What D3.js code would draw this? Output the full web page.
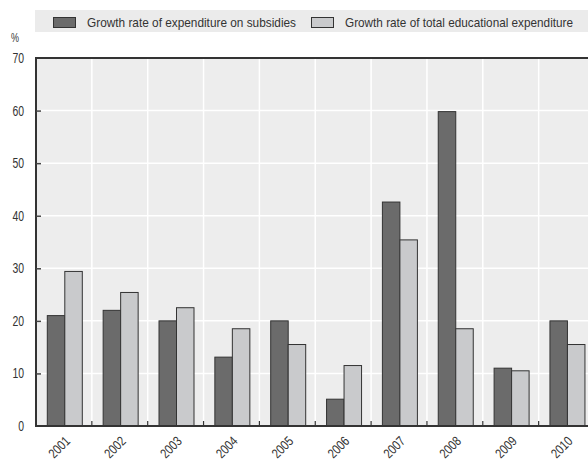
<!DOCTYPE html>
<html>
<head>
<meta charset="utf-8">
<script src="https://cdn.jsdelivr.net/npm/d3@7"></script>
<style>
  body { margin: 0; background: #fff; }
  svg text { font-family: "Liberation Sans Narrow", "Arial Narrow", "Liberation Sans", sans-serif; fill: #333; }
</style>
</head>
<body>
<svg id="chart" width="588" height="462"></svg>
<script>
// data
var years = ["2001", "2002", "2003", "2004", "2005", "2006", "2007", "2008", "2009", "2010"];
var subsidies = [21, 22, 20, 13.1, 20, 5.1, 42.6, 59.8, 11, 20];
var totalEdu = [29.4, 25.4, 22.5, 18.5, 15.5, 11.5, 35.4, 18.5, 10.5, 15.5];
var seriesNames = ["Growth rate of expenditure on subsidies", "Growth rate of total educational expenditure"];
var seriesColors = ["#6b6b6b", "#c9cacc"];
var yTicks = [0, 10, 20, 30, 40, 50, 60, 70];

var svg = d3.select("#chart");
var plotLeft = 36, plotTop = 58, plotBottom = 426;

var x0 = d3.scaleBand().domain(years).range([plotLeft, plotLeft + 55.85 * years.length]).padding(0);
var x1 = d3.scaleBand().domain([0, 1]).range([11.3, 46.3]).padding(0);
var y = d3.scaleLinear().domain([0, 70]).range([plotBottom, plotTop]);

// legend band
var leg = svg.append("g");
leg.append("rect").attr("x", 35).attr("y", 10).attr("width", 553).attr("height", 22).attr("fill", "#ebebeb");
var legX = [53, 311], legW = [209, 228];
seriesNames.forEach(function(n, i) {
	leg.append("rect").attr("x", legX[i] + 0.5).attr("y", 17.5).attr("width", 22).attr("height", 10)
		.attr("fill", seriesColors[i]).attr("stroke", "#333").attr("stroke-width", 1);
	leg.append("text").attr("x", legX[i] + 34).attr("y", 26.5).attr("font-size", 13.5)
		.attr("textLength", legW[i]).attr("lengthAdjust", "spacingAndGlyphs").text(n);
});

// plot background
var xr = x0.range()[1];
svg.append("rect").attr("x", plotLeft).attr("y", plotTop).attr("width", xr - plotLeft).attr("height", plotBottom - plotTop).attr("fill", "#ededed");

// grid
svg.append("g").selectAll("line").data(yTicks.slice(1, -1)).enter().append("line")
	.attr("x1", plotLeft).attr("x2", xr).attr("y1", function(d) { return y(d); }).attr("y2", function(d) { return y(d); })
	.attr("stroke", "#fff").attr("stroke-width", 1.5);
svg.append("g").selectAll("line").data(years.slice(1)).enter().append("line")
	.attr("x1", function(d) { return x0(d); }).attr("x2", function(d) { return x0(d); })
	.attr("y1", plotTop).attr("y2", plotBottom).attr("stroke", "#fff").attr("stroke-width", 1.5);

// bars
var groups = svg.append("g").selectAll("g").data(years).enter().append("g")
	.attr("transform", function(d) { return "translate(" + x0(d) + ",0)"; });
groups.selectAll("rect").data(function(d, i) { return [subsidies[i], totalEdu[i]]; }).enter().append("rect")
	.attr("x", function(d, i) { return x1(i); })
	.attr("width", x1.bandwidth())
	.attr("y", function(d) { return y(d); })
	.attr("height", function(d) { return plotBottom - y(d); })
	.attr("fill", function(d, i) { return seriesColors[i]; })
	.attr("stroke", "#333").attr("stroke-width", 1);

// frame
svg.append("line").attr("x1", plotLeft).attr("x2", xr).attr("y1", plotTop).attr("y2", plotTop).attr("stroke", "#333").attr("stroke-width", 2);
svg.append("line").attr("x1", plotLeft).attr("x2", plotLeft).attr("y1", plotTop - 1).attr("y2", plotBottom + 1).attr("stroke", "#333").attr("stroke-width", 2);

// y axis
var yAxis = svg.append("g").attr("transform", "translate(" + plotLeft + ",0)")
	.call(d3.axisRight(y).tickValues(yTicks.slice(1, -1)).tickSize(5).tickFormat(""));
yAxis.select(".domain").remove();
yAxis.selectAll(".tick line").attr("stroke", "#444").attr("stroke-width", 1.5);
svg.append("g").selectAll("text").data(yTicks).enter().append("text")
	.attr("x", 24).attr("y", function(d) { return y(d) + 5; })
	.attr("text-anchor", "end").attr("font-size", 14)
	.attr("textLength", function(d) { return String(d).length * 5.8; }).attr("lengthAdjust", "spacingAndGlyphs")
	.text(function(d) { return d; });
svg.append("text").attr("x", 15).attr("y", 42).attr("text-anchor", "middle").attr("font-size", 13)
	.attr("textLength", 8).attr("lengthAdjust", "spacingAndGlyphs").text("%");

// x axis
var xAxis = svg.append("g").attr("transform", "translate(0," + plotBottom + ")")
	.call(d3.axisTop(x0).tickValues(years.slice(1)).tickSize(5).tickFormat("").offset(0));
xAxis.select(".domain").remove();
xAxis.selectAll(".tick")
	.attr("transform", function(d) { return "translate(" + x0(d) + ",0)"; });
xAxis.selectAll(".tick line").attr("stroke", "#333").attr("stroke-width", 1.2);
svg.append("line").attr("x1", plotLeft - 1).attr("x2", xr).attr("y1", plotBottom).attr("y2", plotBottom).attr("stroke", "#333").attr("stroke-width", 2);

svg.append("g").selectAll("text").data(years).enter().append("text")
	.attr("transform", function(d) { return "translate(" + (x0(d) + x0.bandwidth() / 2 + 7) + ",442) rotate(-45)"; })
	.attr("text-anchor", "end").attr("font-size", 13.5)
	.attr("textLength", 24).attr("lengthAdjust", "spacingAndGlyphs")
	.text(function(d) { return d; });
</script>
</body>
</html>
